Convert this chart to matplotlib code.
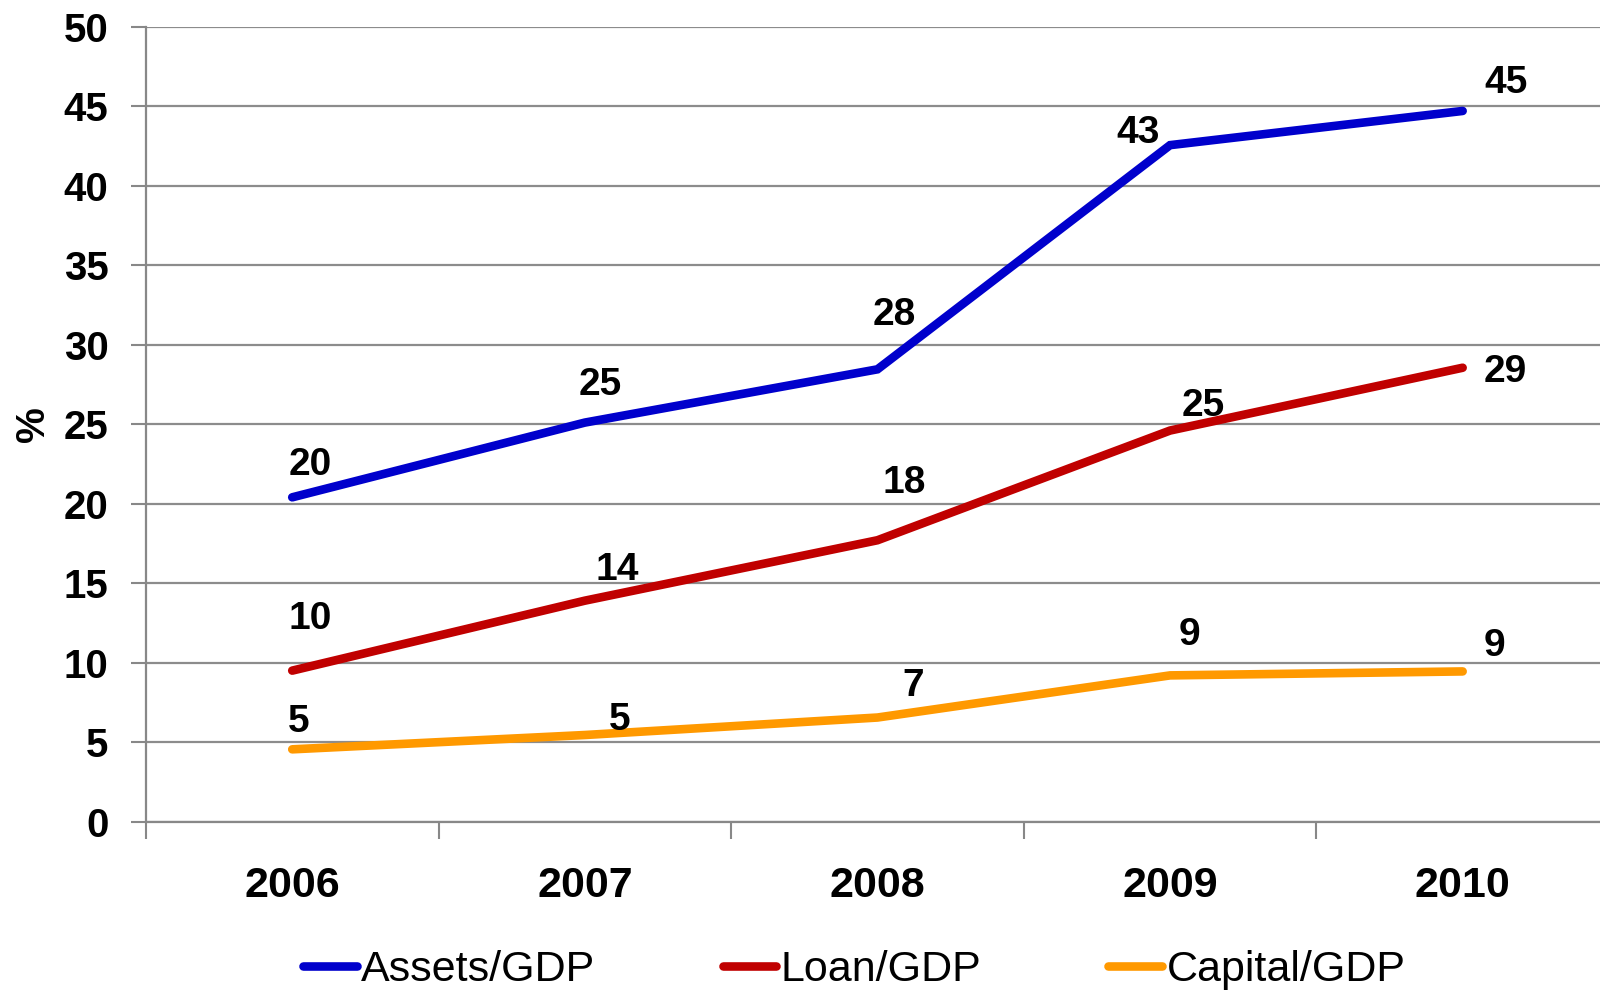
import numpy as np
import matplotlib.pyplot as plt

plt.rcParams['font.family'] = ['Liberation Sans', 'DejaVu Sans']

years = ['2006', '2007', '2008', '2009', '2010']
assets_gdp = [20.4, 25.1, 28.45, 42.55, 44.7]
loan_gdp = [9.5, 13.9, 17.7, 24.6, 28.55]
capital_gdp = [4.55, 5.45, 6.55, 9.2, 9.45]

# label offsets (points) for each series
assets_off = [(13, 23), (11, 27), (12, 39), (-23, 9), (31, 20)]
loan_off = [(13, 37), (23, 22), (19, 41), (24, 18), (31, -3)]
capital_off = [(5, 20), (25, 11), (26, 23), (14, 29), (23, 18)]

fig = plt.figure(figsize=(16, 9.92), dpi=100)
ax = fig.add_axes([0.0912, 0.1717, 0.9144, 0.8014])

x = np.arange(len(years))
series = [
    (assets_gdp, '#0000CC', 'Assets/GDP', assets_off),
    (loan_gdp, '#C00000', 'Loan/GDP', loan_off),
    (capital_gdp, '#FF9900', 'Capital/GDP', capital_off),
]
for vals, col, name, offs in series:
    ax.plot(x, vals, color=col, lw=6.2, solid_capstyle='round',
            solid_joinstyle='miter', label=name, zorder=3)
    for xi, v, (dx, dy) in zip(x, vals, offs):
        ax.annotate(f'{v:.0f}', (xi, v), xytext=(dx, dy), textcoords='offset points',
                    ha='center', va='center', fontsize=28, fontweight='bold')

ax.set_xlim(-0.5, len(years) - 0.5)
ax.set_ylim(0, 50)
ax.set_yticks(np.arange(0, 51, 5))
ax.set_xticks(x)
ax.set_xticklabels(years, fontsize=31, fontweight='bold')
ax.set_xticks(np.arange(-0.5, len(years), 1), minor=True)
ax.tick_params(axis='x', which='major', length=0, pad=32)
ax.tick_params(axis='x', which='minor', length=12, width=1.5, color='#888888')
ax.tick_params(axis='y', length=11, width=1.5, color='#888888', pad=16, labelsize=29)
for lab in ax.get_yticklabels():
    lab.set_fontweight('bold')

ax.grid(axis='y', color='#8c8c8c', lw=1.6, zorder=0)
for s in ['top', 'right']:
    ax.spines[s].set_visible(False)
for s in ['left', 'bottom']:
    ax.spines[s].set_color('#888888')
    ax.spines[s].set_linewidth(1.6)

ax.set_ylabel('%', fontsize=29, fontweight='bold')
ax.yaxis.set_label_coords(-0.064, 0.5)

fig.legend(loc='center', bbox_to_anchor=(0.534, 0.022), ncol=3, frameon=False,
           fontsize=31, handlelength=1.25, handletextpad=0.1, columnspacing=2.95)

fig.savefig('out.png', dpi=100)
